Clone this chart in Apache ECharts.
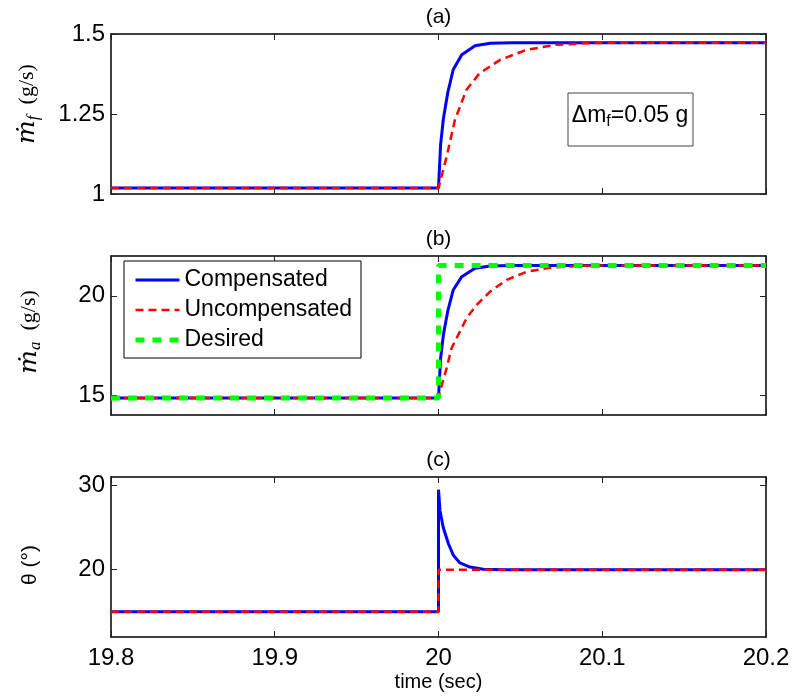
<!DOCTYPE html>
<html><head><meta charset="utf-8">
<script src="https://cdn.jsdelivr.net/npm/echarts@6/dist/echarts.min.js"></script>
<style>html,body{margin:0;padding:0;background:#fff}#c{width:793px;height:700px}</style>
</head><body><div id="c"></div>
<script>
// ---- tick labels ----
const xTicks = [19.8, 19.9, 20.0, 20.1, 20.2];
const yTicksA = [1, 1.25, 1.5];
const yTicksB = [15, 20];
const yTicksC = [20, 30];

// ---- panel (a): fuel mass flow ----
const tCompA = [19.8, 20.0, 20.0013, 20.003, 20.0056, 20.009, 20.0142, 20.0223, 20.0315, 20.045, 20.2];
const compA  = [1.019, 1.019, 1.155, 1.236, 1.315, 1.389, 1.435, 1.463, 1.471, 1.473, 1.473];
const tUncA  = [19.8, 20.0, 20.005, 20.010, 20.017, 20.025, 20.0376, 20.0535, 20.0713, 20.089, 20.11, 20.2];
const uncA   = [1.019, 1.019, 1.117, 1.231, 1.325, 1.377, 1.419, 1.45, 1.466, 1.471, 1.473, 1.473];

// ---- panel (b): air mass flow ----
const tCompB = [19.8, 20.0, 20.0013, 20.003, 20.0056, 20.009, 20.0142, 20.0223, 20.0315, 20.045, 20.2];
const compB  = [14.86, 14.86, 16.87, 18.04, 19.21, 20.29, 20.96, 21.38, 21.50, 21.52, 21.52];
const tUncB  = [19.8, 20.0, 20.0009, 20.005, 20.008, 20.0121, 20.0172, 20.0233, 20.0315, 20.0417, 20.0539, 20.0681, 20.0864, 20.11, 20.2];
const uncB   = [14.86, 14.86, 15.19, 16.37, 17.37, 18.04, 18.88, 19.54, 20.21, 20.80, 21.21, 21.41, 21.51, 21.52, 21.52];
const tDesB  = [19.8, 20.0, 20.0, 20.2];
const desB   = [14.86, 14.86, 21.52, 21.52];

// ---- panel (c): throttle angle ----
const tCompC = [19.8, 20.0, 20.0, 20.0009, 20.0029, 20.006, 20.0091, 20.0131, 20.0192, 20.0273, 20.04, 20.2];
const compC  = [15, 15, 29.5, 27.0, 25.0, 23.1, 21.7, 20.8, 20.3, 20.05, 20.0, 20.0];
const tUncC  = [19.8, 20.0, 20.0, 20.2];
const uncC   = [15, 15, 20, 20];

const SANS = "'Liberation Sans', Arial, Helvetica, sans-serif";
const SERIF = "'Liberation Serif', 'DejaVu Serif', serif";
const MSERIF = "'DejaVu Serif', 'Liberation Serif', serif";
const zip = (t, v) => t.map((x, i) => [x, v[i]]);

const GL = 111, GW = 655;
const grids = [
  {left: GL, width: GW, top: 34, height: 160},
  {left: GL, width: GW, top: 256, height: 159},
  {left: GL, width: GW, top: 477, height: 160}
];

const axisLineS = {show: true, onZero: false, lineStyle: {color: '#000', width: 1.5}};
function xAx(gi, pos, labels) {
  return {
    type: 'value', gridIndex: gi, position: pos, min: 19.8, max: 20.2,
    axisLine: axisLineS,
    axisTick: {show: true, inside: true, length: 6, customValues: xTicks, lineStyle: {color: '#222', width: 1}},
    axisLabel: {show: labels, customValues: xTicks, fontSize: 24, fontFamily: SANS, color: '#000', margin: 9,
      formatter: v => String(Math.round(v * 10) / 10)},
    splitLine: {show: false}
  };
}
function yAx(gi, pos, min, max, ticks, labels) {
  return {
    type: 'value', gridIndex: gi, position: pos, min: min, max: max,
    axisLine: axisLineS,
    axisTick: {show: true, inside: true, length: 6, customValues: ticks, lineStyle: {color: '#222', width: 1}},
    axisLabel: {show: labels, customValues: ticks, fontSize: 24, fontFamily: SANS, color: '#000', margin: 6},
    splitLine: {show: false}
  };
}

const xAxis = [], yAxis = [];
[0, 1, 2].forEach(g => {
  xAxis.push(xAx(g, 'bottom', g === 2));
  xAxis.push(xAx(g, 'top', false));
});
yAxis.push(yAx(0, 'left', 1, 1.5, yTicksA, true));
yAxis.push(yAx(0, 'right', 1, 1.5, yTicksA, false));
yAxis.push(yAx(1, 'left', 14, 22, yTicksB, true));
yAxis.push(yAx(1, 'right', 14, 22, yTicksB, false));
yAxis.push(yAx(2, 'left', 12, 31, yTicksC, true));
yAxis.push(yAx(2, 'right', 12, 31, yTicksC, false));

const blueS = {color: '#0000ff', width: 3, type: 'solid'};
const redS = {color: '#ff0000', width: 2.5, type: [8, 5]};
const greenS = {color: '#00ff00', width: 5, type: [9, 8]};
function ser(name, data, gi, ls, z) {
  return {name, type: 'line', xAxisIndex: gi * 2, yAxisIndex: gi * 2, data, symbol: 'none', showSymbol: false,
    lineStyle: ls, itemStyle: {color: ls.color}, z: z, silent: true, animation: false};
}

const series = [
  ser('Compensated', zip(tCompA, compA), 0, blueS, 2),
  ser('Uncompensated', zip(tUncA, uncA), 0, redS, 3),
  ser('Compensated', zip(tCompB, compB), 1, blueS, 2),
  ser('Uncompensated', zip(tUncB, uncB), 1, redS, 3),
  ser('Desired', zip(tDesB, desB), 1, greenS, 4),
  ser('Compensated', zip(tCompC, compC), 2, blueS, 2),
  ser('Uncompensated', zip(tUncC, uncC), 2, redS, 3)
];

const yNameRich = {
  m: {fontFamily: MSERIF, fontStyle: 'italic', fontSize: 25, color: '#222', lineHeight: 30, verticalAlign: 'middle'},
  s: {fontFamily: SERIF, fontStyle: 'italic', fontSize: 17, color: '#222', lineHeight: 17, verticalAlign: 'bottom'},
  n: {fontFamily: SERIF, fontSize: 22, color: '#222', lineHeight: 30, verticalAlign: 'middle'}
};

const graphic = [
  {type: 'text', x: 438.5, y: 17, style: {text: '(a)', font: "21px " + SANS, fill: '#000', align: 'center', verticalAlign: 'middle'}},
  {type: 'text', x: 438.5, y: 239, style: {text: '(b)', font: "21px " + SANS, fill: '#000', align: 'center', verticalAlign: 'middle'}},
  {type: 'text', x: 438.5, y: 460, style: {text: '(c)', font: "21px " + SANS, fill: '#000', align: 'center', verticalAlign: 'middle'}},
  {type: 'text', x: 438.5, y: 682, style: {text: 'time (sec)', font: "20px " + SANS, fill: '#000', align: 'center', verticalAlign: 'middle'}},
  {type: 'text', x: 27, y: 104, rotation: Math.PI / 2,
    style: {text: '{m|ṁ}{s|f}{n|  (g/s)}', rich: yNameRich, align: 'center', verticalAlign: 'middle'}},
  {type: 'text', x: 29, y: 332, rotation: Math.PI / 2,
    style: {text: '{m|ṁ}{s|a}{n|  (g/s)}', rich: yNameRich, align: 'center', verticalAlign: 'middle'}},
  {type: 'text', x: 30, y: 565, rotation: Math.PI / 2,
    style: {text: 'θ (°)', font: "21px " + SANS, fill: '#000', align: 'center', verticalAlign: 'middle'}},
  {type: 'rect', shape: {x: 568, y: 93, width: 125, height: 53}, style: {fill: '#fff', stroke: '#444', lineWidth: 1}, z: 10},
  {type: 'text', x: 630, y: 116, z: 11,
    style: {text: '{a|Δm}{s|f}{a|=0.05 g}', align: 'center', verticalAlign: 'middle',
      rich: {
        a: {fontFamily: SANS, fontSize: 23, color: '#000', lineHeight: 28, verticalAlign: 'middle'},
        s: {fontFamily: SANS, fontSize: 16, color: '#000', lineHeight: 16, verticalAlign: 'bottom'}
      }}}
];

const option = {
  animation: false,
  backgroundColor: '#fff',
  grid: grids,
  xAxis, yAxis, series, graphic,
  legend: {
    data: [
      {name: 'Compensated', lineStyle: {width: 3}},
      {name: 'Uncompensated', lineStyle: {width: 2.5}},
      {name: 'Desired', lineStyle: {width: 5}}
    ],
    orient: 'vertical', left: 124, top: 261,
    itemWidth: 44, itemHeight: 14, itemGap: 0,
    padding: [4, 9, 3, 9],
    borderColor: '#000', borderWidth: 1, backgroundColor: '#fff',
    selectedMode: false,
    itemStyle: {opacity: 0},
    textStyle: {fontSize: 23, fontFamily: SANS, color: '#000', lineHeight: 30}
  }
};

const chart = echarts.init(document.getElementById('c'), null, {renderer: 'canvas'});
chart.setOption(option);
</script>
</body></html>
